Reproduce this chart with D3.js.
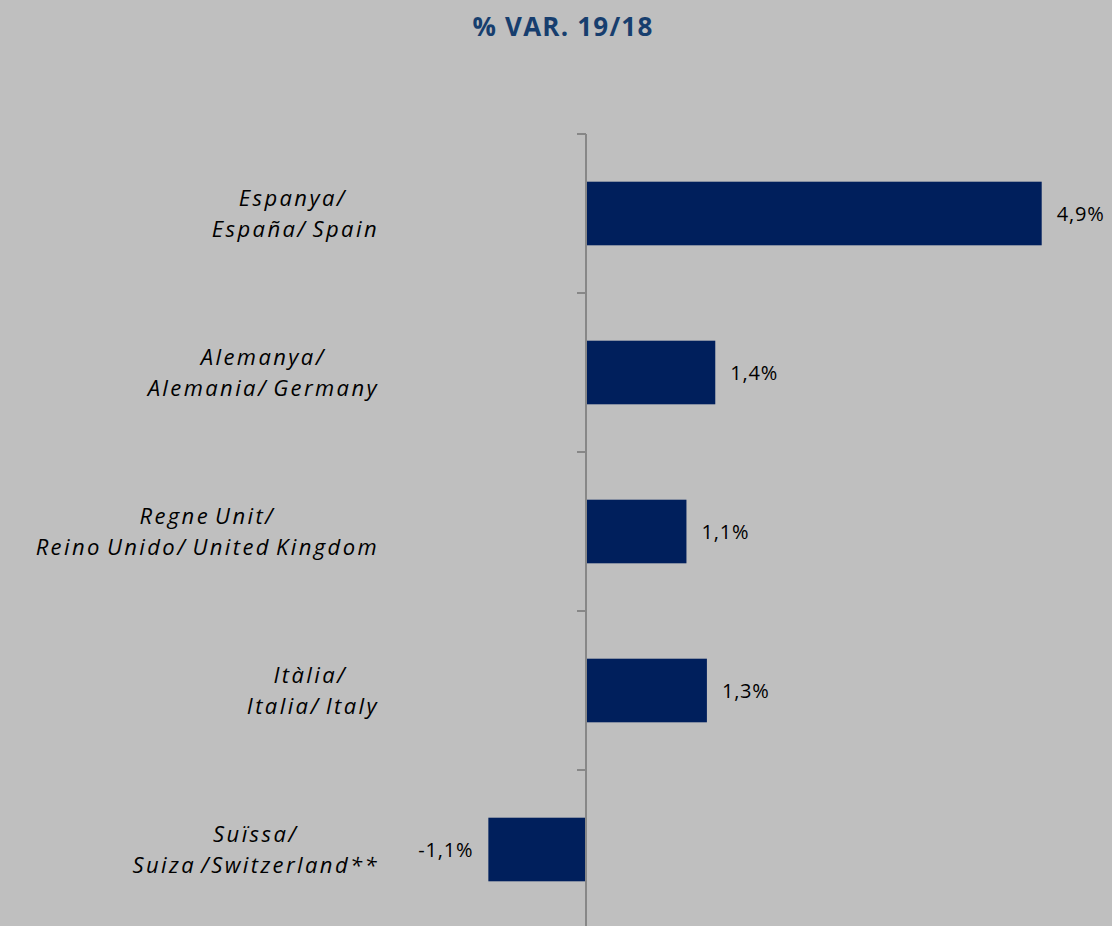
<!DOCTYPE html>
<html>
<head>
<meta charset="utf-8">
<script src="https://cdn.jsdelivr.net/npm/d3@7"></script>
<style>
  body { margin: 0; background: #bfbfbf; }
  svg { display: block; }
  .cat { white-space: pre; }
</style>
</head>
<body>
<div id="chart"></div>
<script>
// chart data
var titleText = "% VAR. 19/18";
var categories = ["spain", "germany", "uk", "italy", "switzerland"];
var labelLine1 = ["Espanya/ ", "Alemanya/", "Regne Unit/", "Itàlia/ ", "Suïssa/"];
var labelLine2 = ["España/ Spain", "Alemania/ Germany", "Reino Unido/ United Kingdom", "Italia/ Italy", "Suiza /Switzerland**"];
var values = [4.9, 1.39, 1.08, 1.3, -1.05];

var width = 1112, height = 926;
var labelRight = 377;

var svg = d3.select("#chart").append("svg")
	.attr("width", width)
	.attr("height", height);

svg.append("rect")
	.attr("width", width)
	.attr("height", height)
	.attr("fill", "#bfbfbf");

// title
svg.append("text")
	.attr("x", 563)
	.attr("y", 36)
	.attr("text-anchor", "middle")
	.attr("font-family", "Open Sans, sans-serif")
	.attr("font-weight", 700)
	.attr("font-size", 26)
	.attr("letter-spacing", 1.2)
	.attr("fill", "#173e6e")
	.text(titleText);

// scales
var x = d3.scaleLinear()
	.domain([-2, 5])
	.range([400, 1051]);

var y = d3.scaleBand()
	.domain(categories)
	.range([134, 929])
	.padding(0);

var step = y.step();

// bars
svg.selectAll("rect.bar")
	.data(categories)
	.enter()
	.append("rect")
	.attr("class", "bar")
	.attr("x", function(d, i) { return Math.min(x(0), x(values[i])); })
	.attr("y", function(d) { return y(d) + step * 0.3; })
	.attr("width", function(d, i) { return Math.abs(x(values[i]) - x(0)); })
	.attr("height", step * 0.4)
	.attr("fill", "#001f5c");

// category axis (tick marks at band boundaries)
var axisG = svg.append("g")
	.attr("class", "y-axis");

axisG.append("line")
	.attr("x1", x(0)).attr("x2", x(0))
	.attr("y1", y.range()[0]).attr("y2", y.range()[1])
	.attr("stroke", "#878787")
	.attr("stroke-width", 2);

axisG.selectAll("line.tick")
	.data(categories)
	.enter()
	.append("line")
	.attr("class", "tick")
	.attr("x1", x(0) - 9).attr("x2", x(0))
	.attr("y1", function(d) { return y(d); })
	.attr("y2", function(d) { return y(d); })
	.attr("stroke", "#878787")
	.attr("stroke-width", 2);

// category labels: two lines centred on each other, block right-aligned
var labels = svg.selectAll("text.cat")
	.data(categories)
	.enter()
	.append("text")
	.attr("class", "cat")
	.attr("text-anchor", "middle")
	.attr("font-family", "Open Sans, sans-serif")
	.attr("font-style", "italic")
	.attr("font-size", 22)
	.attr("letter-spacing", 2.4)
	.attr("word-spacing", -3)
	.attr("fill", "#000");

labels.append("tspan")
	.attr("y", function(d) { return y(d) + step / 2 - 8; })
	.text(function(d, i) { return labelLine1[i]; });

labels.append("tspan")
	.attr("y", function(d) { return y(d) + step / 2 + 23; })
	.text(function(d, i) { return labelLine2[i]; });

labels.each(function() {
	var spans = d3.select(this).selectAll("tspan");
	var w = d3.max(spans.nodes(), function(n) { return n.getComputedTextLength(); });
	spans.attr("x", labelRight + 2 - w / 2);
});

// value labels
svg.selectAll("text.val")
	.data(categories)
	.enter()
	.append("text")
	.attr("class", "val")
	.attr("x", function(d, i) { return values[i] >= 0 ? x(values[i]) + 15 : x(values[i]) - 15; })
	.attr("y", function(d) { return y(d) + step / 2 + 7; })
	.attr("text-anchor", function(d, i) { return values[i] >= 0 ? "start" : "end"; })
	.attr("font-family", "Open Sans, sans-serif")
	.attr("font-size", 20)
	.attr("letter-spacing", 0.8)
	.attr("fill", "#000")
	.text(function(d, i) { return values[i].toFixed(1).replace(".", ",") + "%"; });
</script>
</body>
</html>
